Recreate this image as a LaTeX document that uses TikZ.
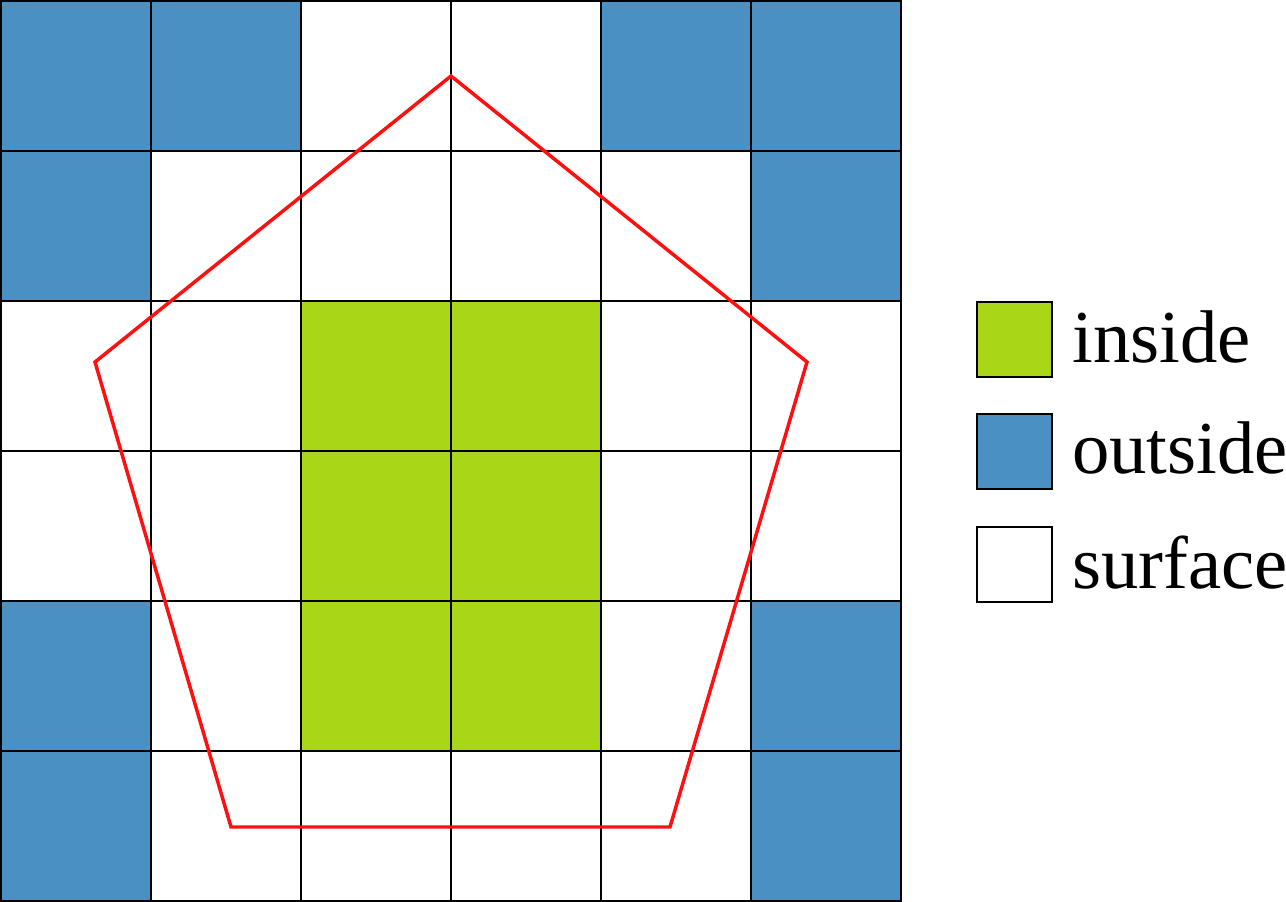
\documentclass[tikz,border=0pt]{standalone}
\usepackage{fontspec}
\setmainfont{Liberation Serif}
\definecolor{cblue}{HTML}{4A90C2}
\definecolor{cgreen}{HTML}{A9D616}
\definecolor{cred}{HTML}{FF1010}
\begin{document}
\begin{tikzpicture}[x=0.75pt,y=-0.75pt,
  cell/.style={draw=black,line width=1.5pt},
  cellB/.style={cell,fill=cblue},
  cellG/.style={cell,fill=cgreen},
  cellW/.style={cell,fill=white},
  legbox/.style={draw=black,line width=1.5pt,minimum width=56.25pt,minimum height=56.25pt,inner sep=0pt,anchor=north west},
  legtext/.style={font=\fontsize{56}{60}\selectfont,inner sep=0pt,anchor=base west},
  poly/.style={draw=cred,line width=2.6pt,line join=miter}]
\useasboundingbox (0,0) rectangle (1286,902);
% grid cells: B=outside, G=inside, W=surface
\foreach \row/\cells in {0/{B,B,W,W,B,B},1/{B,W,W,W,W,B},2/{W,W,G,G,W,W},3/{W,W,G,G,W,W},4/{B,W,G,G,W,B},5/{B,W,W,W,W,B}}{
  \foreach \c [count=\col from 0] in \cells {
    \pgfmathsetmacro{\xa}{1+150*\col}
    \pgfmathsetmacro{\ya}{1+150*\row}
    \path[cell\c] (\xa,\ya) rectangle ++(150,150);
  }
}
% pentagon
\coordinate (pt) at (451,76);
\coordinate (pr) at (807,362);
\coordinate (pbr) at (670,827);
\coordinate (pbl) at (231,827);
\coordinate (pl) at (95,362);
\draw[poly] (pt) -- (pr) -- (pbr) -- (pbl) -- (pl) -- cycle;
% legend
\node[legbox,fill=cgreen] (lin) at (976,301) {};
\node[legbox,fill=cblue] (lout) at (976,413) {};
\node[legbox,fill=white] (lsurf) at (976,526) {};
\node[legtext] (tin) at (1072,363) {inside};
\node[legtext] (tout) at (1072,473) {outside};
\node[legtext] (tsurf) at (1072,588) {surface};
\end{tikzpicture}
\end{document}
